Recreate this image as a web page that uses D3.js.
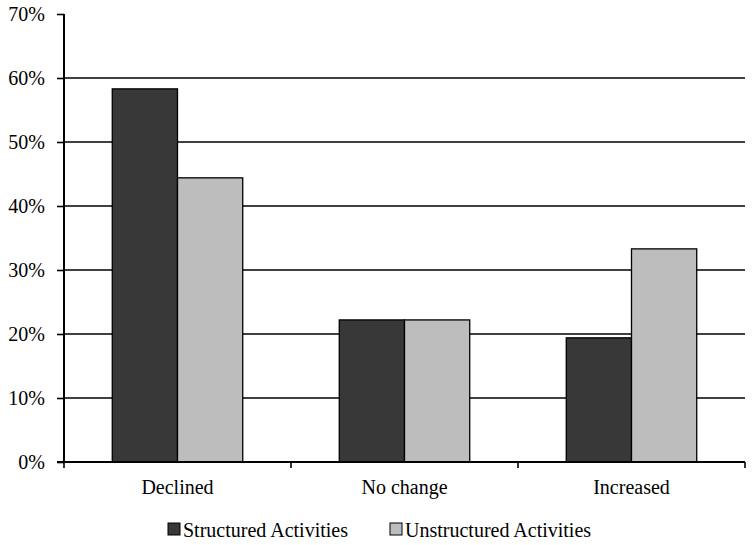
<!DOCTYPE html>
<html>
<head>
<meta charset="utf-8">
<script src="https://cdn.jsdelivr.net/npm/d3@7"></script>
<style>
  body { margin: 0; background: #fff; }
</style>
</head>
<body>
<div id="chart"></div>
<script>
// data
const categories = ['Declined', 'No change', 'Increased'];
const seriesNames = ['Structured Activities', 'Unstructured Activities'];
const structured = [58.3, 22.2, 19.4];
const unstructured = [44.4, 22.2, 33.3];
const yTicks = [0, 10, 20, 30, 40, 50, 60, 70];
const colors = ['#383838', '#bdbdbd'];

const width = 754;
const height = 545;
const marginLeft = 64;
const marginRight = 9;
const marginTop = 14;
const plotBottom = 462;
const serif = "'Liberation Serif', serif";

const svg = d3.select('#chart')
  .append('svg')
  .attr('width', width)
  .attr('height', height)
  .style('font-family', serif);

const x0 = d3.scaleBand()
  .domain(categories)
  .range([marginLeft, width - marginRight])
  .paddingInner(0)
  .paddingOuter(0);

const x1 = d3.scaleBand()
  .domain(seriesNames)
  .range([0, x0.bandwidth()])
  .paddingOuter(0.74)
  .paddingInner(0);

const y = d3.scaleLinear()
  .domain([0, 70])
  .range([plotBottom, marginTop]);

// gridlines
svg.append('g')
  .selectAll('line')
  .data(yTicks.filter(d => d > 0 && d < 70))
  .enter().append('line')
  .attr('x1', marginLeft)
  .attr('x2', width - marginRight)
  .attr('y1', d => y(d))
  .attr('y2', d => y(d))
  .attr('stroke', '#000')
  .attr('stroke-width', 1.6);

// bars
const rows = categories.map((c, i) => ({ cat: c, vals: [structured[i], unstructured[i]] }));
svg.append('g')
  .selectAll('g')
  .data(rows)
  .enter().append('g')
  .attr('transform', d => `translate(${x0(d.cat)},0)`)
  .selectAll('rect')
  .data(d => d.vals.map((v, j) => ({ key: seriesNames[j], v: v, j: j })))
  .enter().append('rect')
  .attr('x', d => x1(d.key))
  .attr('y', d => y(d.v))
  .attr('width', x1.bandwidth())
  .attr('height', d => plotBottom - y(d.v))
  .attr('fill', d => colors[d.j])
  .attr('stroke', '#000')
  .attr('stroke-width', 1.3);

// y axis
svg.append('g')
  .attr('transform', `translate(${marginLeft},0)`)
  .call(d3.axisLeft(y).tickValues(yTicks).tickFormat(d => d + '%').tickSize(7).tickPadding(12))
  .attr('font-family', null)
  .call(g => g.select('.domain').attr('stroke-width', 2).attr('d', `M0,${marginTop}V${plotBottom}`))
  .call(g => g.selectAll('.tick line').attr('stroke-width', 1.6))
  .call(g => g.selectAll('.tick text')
    .attr('font-size', 20)
    .style('font-family', serif)
    .attr('fill', '#000'));

// x axis
const xAxis = svg.append('g')
  .attr('transform', `translate(0,${plotBottom})`);
xAxis.append('line')
  .attr('x1', marginLeft - 7)
  .attr('x2', width - marginRight)
  .attr('stroke', '#000')
  .attr('stroke-width', 2);
const bounds = categories.map(c => x0(c)).concat([x0.range()[1]]);
xAxis.selectAll('.xt')
  .data(bounds)
  .enter().append('line')
  .attr('class', 'xt')
  .attr('x1', d => d).attr('x2', d => d)
  .attr('y1', 0).attr('y2', 6)
  .attr('stroke', '#000')
  .attr('stroke-width', 1.6);
xAxis.selectAll('.xl')
  .data(categories)
  .enter().append('text')
  .attr('class', 'xl')
  .attr('x', d => x0(d) + x0.bandwidth() / 2)
  .attr('y', 32)
  .attr('text-anchor', 'middle')
  .attr('font-size', 20)
  .style('font-family', serif)
  .text(d => d);

// legend
const legendX = [168, 390];
const legend = svg.append('g');
seriesNames.forEach((name, i) => {
  legend.append('rect')
    .attr('x', legendX[i])
    .attr('y', 523)
    .attr('width', 12)
    .attr('height', 12)
    .attr('fill', colors[i])
    .attr('stroke', '#000')
    .attr('stroke-width', 1);
  legend.append('text')
    .attr('x', legendX[i] + 15)
    .attr('y', 537)
    .attr('font-size', 20)
    .style('font-family', serif)
    .text(name);
});
</script>
</body>
</html>
